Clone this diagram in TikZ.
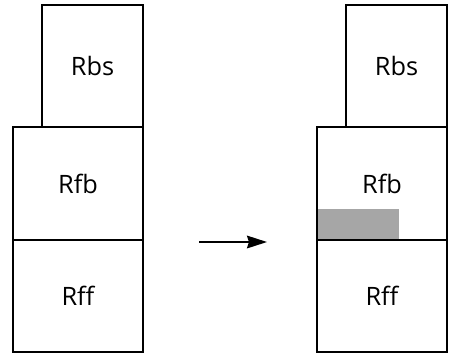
\documentclass[tikz,border=0pt]{standalone}
\usepackage{fontspec}
\setmainfont{Open Sans}
\usetikzlibrary{calc, arrows.meta}

\begin{document}
\begin{tikzpicture}[x=0.75pt,y=-0.75pt,
        block/.style={draw, line width=1.5pt, inner sep=0pt, font=\fontsize{19}{21}\selectfont}]
            \useasboundingbox (0,0) rectangle (449,354);

            % stack before
            \node (bs1) at (92.5,66) [block, minimum width=101*0.75pt, minimum height=122*0.75pt] {Rbs};
            \node (fb1) at (78,183.5) [block, minimum width=130*0.75pt, minimum height=113*0.75pt] {Rfb};
            \node (ff1) at (78,296) [block, minimum width=130*0.75pt, minimum height=112*0.75pt] {Rff};

            % stack after
            \fill [black!35] (318,209) rectangle (399,240);
            \node (bs2) at ($(bs1) + (304,0)$) [block, minimum width=101*0.75pt, minimum height=122*0.75pt] {Rbs};
            \node (fb2) at ($(fb1) + (304,0)$) [block, minimum width=130*0.75pt, minimum height=113*0.75pt] {Rfb};
            \node (ff2) at ($(ff1) + (304,0)$) [block, minimum width=130*0.75pt, minimum height=112*0.75pt] {Rff};

            \coordinate (from) at (199,242);
            \coordinate (to) at (267,242);
            \draw [line width=1.5pt, -{Stealth[length=15pt, width=9.5pt, inset=1.5pt]}] (from) -- (to);

        \end{tikzpicture}
\end{document}
